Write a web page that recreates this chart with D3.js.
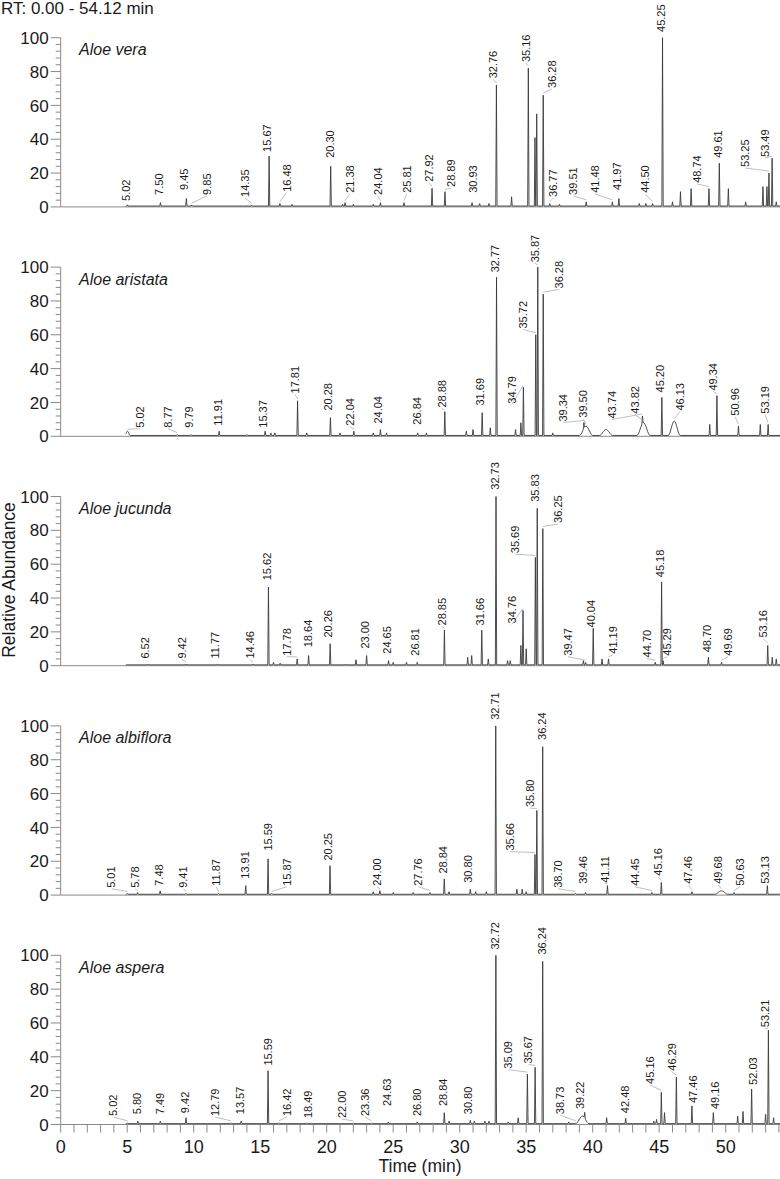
<!DOCTYPE html>
<html><head><meta charset="utf-8">
<script src="https://cdn.jsdelivr.net/npm/d3@7"></script>
<style>
body{margin:0;background:#fff;}
svg{display:block;font-family:"Liberation Sans",Arial,sans-serif;}
</style></head>
<body><svg id="c" width="780" height="1179"></svg>
<script>
// ---------------- DATA ----------------
const rtRange = [0, 54.12];
const panelNames = ["Aloe vera", "Aloe aristata", "Aloe jucunda", "Aloe albiflora", "Aloe aspera"];
const yTickValues = [0, 20, 40, 60, 80, 100];
const xTickValues = [0, 5, 10, 15, 20, 25, 30, 35, 40, 45, 50];
const traceStart = 4.9;

// peaks: [retention time (min), relative abundance, optional half-width (min)]
const peaksVera = [[5.02,1.2],[7.50,2.5],[9.45,5],[9.85,1],[14.35,1],[15.67,30],[16.48,2],[17.4,1.5],[20.30,24],[21.2,1.5],[21.38,2.5],[22.0,1.5],[23.5,1.5],[24.04,2.5],[25.81,2.5],[27.92,11],[28.89,9],[30.93,2.5],[31.5,2],[32.2,2],[32.76,72],[33.9,6],[35.16,82],[35.66,41],[35.79,55],[36.28,66],[36.77,2],[37.5,1.5],[39.51,3],[41.48,3],[41.97,5],[43.5,2],[44.0,2],[44.50,2],[45.25,100],[46.0,3],[46.6,9],[47.4,10.8],[48.74,10.8],[49.52,25.8],[50.2,10.8],[51.5,3],[52.8,12],[53.1,12],[53.25,20],[53.49,28.8],[53.8,3]];
const peaksAristata = [[5.02,3,0.2],[8.77,1],[9.79,1],[11.91,3],[14.0,1],[15.37,3],[15.8,2],[16.1,2],[17.81,21],[18.5,2],[20.28,11],[21.0,2],[22.04,3],[23.5,2],[24.04,4],[24.5,2],[26.84,2],[27.5,2],[28.88,14.6],[30.5,3],[31.0,4],[31.69,14],[32.3,5],[32.77,94],[34.2,4],[34.6,8],[34.79,29],[35.72,60],[35.87,100],[36.28,84],[37.0,2],[39.34,4],[39.50,6,0.5],[41.0,4,0.5],[43.74,5],[43.82,8,0.5],[45.20,23],[46.13,9,0.45],[48.8,7],[49.34,24],[50.96,6],[52.6,7],[53.19,7]];
const peaksJucunda = [[6.52,1],[9.42,1],[11.77,1],[14.46,1],[15.62,46.5],[16.0,2],[16.5,1.5],[17.78,4],[18.64,6],[20.26,13],[21.5,1],[22.2,3.5],[23.00,6],[24.65,3],[25.0,2],[26.0,2],[26.81,2],[28.85,21],[30.6,5],[30.9,6],[31.66,21],[32.15,4],[32.73,100],[33.6,3],[33.8,3],[34.6,12],[34.76,32.7],[35.0,10],[35.69,64],[35.83,93],[36.25,81],[39.3,3],[39.47,2],[40.04,22],[40.7,4],[41.19,4],[44.70,2],[45.18,49.5],[45.29,3],[48.70,5],[49.69,2],[53.16,12],[53.5,5],[53.8,4]];
const peaksAlbiflora = [[5.01,1],[5.78,1.5],[7.48,2.5],[9.41,1],[11.87,1],[13.91,5.6],[15.59,21.4],[15.87,1],[20.25,17.4],[23.5,2],[24.00,2.6],[25.0,1.5],[26.5,1.5],[27.76,1.5],[28.84,9.6],[29.2,2],[30.80,3.5],[31.2,2],[32.0,2],[32.71,100],[34.3,3.5],[34.7,3.5],[35.0,2],[35.66,24],[35.80,50],[36.24,87.7],[38.70,1],[39.46,1.5],[41.11,5.6],[44.45,1.5],[45.16,7.5],[47.46,2],[49.68,2.5,0.5],[50.63,1.5],[53.13,5.6]];
const peaksAspera = [[5.02,1],[5.80,2],[7.49,2],[9.42,4],[12.79,1],[13.57,2],[15.59,31.8],[16.42,1],[18.49,1],[22.00,1],[23.36,1],[24.63,1.5],[26.80,1.5],[28.0,1],[28.84,7],[29.2,2],[30.80,2.5],[31.1,2],[31.9,2],[32.2,2],[32.72,100],[33.65,1.5],[34.4,4],[35.09,29.8],[35.67,33.8],[36.24,96.4],[38.2,1.5],[38.73,1],[39.22,5,0.5],[39.4,4],[41.05,4],[42.48,3.7],[44.6,2],[44.8,3],[45.16,19],[45.4,7],[46.29,28],[47.46,11],[49.07,7],[50.9,5],[51.3,7.7],[51.95,21],[53.0,6],[53.21,55.7],[53.6,4]];

// labels: [text, label position (min), label foot (abundance)]
const labelsVera = [["5.02",4.92,3.5],["7.50",7.40,7.1],["9.45",9.29,10],["9.85",10.98,7.1],["14.35",13.86,5.9],["15.67",15.49,32.5],["16.48",16.99,8.9],["20.30",20.25,29],["21.38",21.75,8.3],["24.04",23.83,7.1],["25.81",26.02,8.3],["27.92",27.71,14.8],["28.89",29.35,11.8],["30.93",31.02,8.3],["32.76",32.53,76],["35.16",34.96,85.6],["36.28",36.92,70.3],["36.77",37.04,5.9],["39.51",38.54,7.1],["41.48",40.17,8.3],["41.97",41.80,10],["44.50",43.93,8.3],["45.25",45.14,103.4],["48.74",47.82,14.2],["49.61",49.44,29],["53.25",51.45,23.6],["53.49",52.95,29.5]];
const labelsAristata = [["5.02",5.96,5.1],["8.77",8.07,5.1],["9.79",9.65,5.1],["11.91",11.83,6.3],["15.37",15.21,5.1],["17.81",17.62,25.3],["20.28",20.12,15.2],["22.04",21.75,6.3],["24.04",23.86,7.5],["26.84",26.77,6.9],["28.88",28.65,17],["31.69",31.53,18.2],["32.77",32.65,96.9],["34.79",33.91,19.3],["35.72",34.78,63.7],["35.87",35.66,102.8],["36.28",37.47,87.4],["39.34",37.79,8.7],["39.50",39.29,11],["43.74",41.43,10.5],["43.82",43.18,13.4],["45.20",45.06,25.9],["46.13",46.56,15.2],["49.34",49.07,27],["50.96",50.70,12.2],["53.19",52.95,13.4]];
const labelsJucunda = [["6.52",6.34,4.2],["9.42",9.10,4.2],["11.77",11.6,4.2],["14.46",14.23,4.2],["15.62",15.49,50.5],["17.78",16.99,5.9],["18.64",18.62,10.9],["20.26",20.12,16.6],["23.00",22.88,10.1],["24.65",24.51,7.1],["26.81",26.64,5.9],["28.85",28.65,23.8],["31.66",31.53,23.8],["32.73",32.65,104],["34.76",33.91,25],["35.69",34.16,66.5],["35.83",35.66,96.9],["36.25",37.41,84.4],["39.47",38.14,5.9],["40.04",39.92,22.6],["41.19",41.53,7.1],["44.70",44.06,4.9],["45.18",45.06,52.3],["45.29",45.6,5.9],["48.70",48.57,7.9],["49.69",50.17,5.9],["53.16",52.83,16.6]];
const labelsAlbiflora = [["5.01",3.83,4.3],["5.78",5.59,4.3],["7.48",7.41,5.5],["9.41",9.22,4.3],["11.87",11.68,5.5],["13.91",13.86,9.7],["15.59",15.61,26.3],["15.87",16.99,5.5],["20.25",20.12,20.4],["24.00",23.76,5.5],["27.76",26.89,5.5],["28.84",28.77,12.7],["30.80",30.65,7.3],["32.71",32.65,103.6],["35.66",33.78,26.3],["35.80",35.29,52],["36.24",36.17,91.7],["38.70",37.41,4.3],["39.46",39.29,6.7],["41.11",40.92,7.3],["44.45",43.18,5.5],["45.16",44.91,11.5],["47.46",47.19,6.7],["49.68",49.44,6.7],["50.63",51.08,5.5],["53.13",52.95,6.7]];
const labelsAspera = [["5.02",3.95,5],["5.80",5.71,6.1],["7.49",7.47,6.1],["9.42",9.35,6.7],["12.79",11.6,5],["13.57",13.48,6.1],["15.59",15.61,34.8],["16.42",16.99,5],["18.49",18.62,3.8],["22.00",21.13,3.8],["23.36",22.88,5],["24.63",24.51,10.9],["26.80",26.77,5],["28.84",28.77,10.9],["30.80",30.65,6.1],["32.72",32.65,103.4],["35.09",33.65,33],["35.67",35.16,36],["36.24",36.17,100.4],["38.73",37.54,6.1],["39.22",39.04,9.1],["42.48",42.42,6.7],["45.16",44.31,24],["46.29",45.94,31.8],["47.46",47.56,12.7],["49.16",49.2,9.1],["52.03",52.07,23.4],["53.21",52.95,57.5]];

const panelPeaks = [peaksVera, peaksAristata, peaksJucunda, peaksAlbiflora, peaksAspera];
const panelLabels = [labelsVera, labelsAristata, labelsJucunda, labelsAlbiflora, labelsAspera];

// ---------------- DRAW ----------------
const svg = d3.select("#c");
const x = d3.scaleLinear().domain(rtRange).range([60.7, 780.5]);
const panelTop0 = 37.7, panelStep = 229.4, panelH = 169.2;
const axisColor = "#8a8a8a", traceColor = "#3a3a3a", leaderColor = "#b0b0b0", textColor = "#1a1a1a";
const base = 0.5, defaultW = 0.05;

svg.append("text").attr("x", 1).attr("y", 13.5).attr("font-size", 17).attr("fill", textColor)
  .text("RT: 0.00 - 54.12 min");

function contribution(p, t) {
  const d = Math.abs(t - p[0]);
  if (p[2]) { // broad, rounded hump
    return d < p[2] ? (p[1] - base) * (0.5 + 0.5 * Math.cos(Math.PI * d / p[2])) : 0;
  }
  return d < defaultW ? (p[1] - base) * (1 - d / defaultW) : 0;
}
function valueAt(peaks, t) {
  let v = base;
  for (const p of peaks) v += contribution(p, t);
  return v;
}

panelPeaks.forEach((peaks, i) => {
  const top = panelTop0 + i * panelStep;
  const y = d3.scaleLinear().domain([0, 100]).range([top + panelH, top]);
  const g = svg.append("g");

  // y axis
  g.append("line").attr("x1", x(0)).attr("x2", x(0)).attr("y1", y(0)).attr("y2", y(100))
    .attr("stroke", axisColor).attr("stroke-width", 1);
  d3.range(0, 101, 4).forEach(v => {
    const major = v % 20 === 0;
    g.append("line").attr("x1", x(0) - (major ? 10 : 5)).attr("x2", x(0))
      .attr("y1", y(v)).attr("y2", y(v)).attr("stroke", axisColor).attr("stroke-width", 1);
  });
  yTickValues.forEach(v => {
    g.append("text").attr("x", x(0) - 12).attr("y", y(v)).attr("dy", "0.36em")
      .attr("text-anchor", "end").attr("font-size", 17).attr("fill", textColor).text(v);
  });
  // baseline axis
  g.append("line").attr("x1", x(0)).attr("x2", x(rtRange[1])).attr("y1", y(0)).attr("y2", y(0))
    .attr("stroke", axisColor).attr("stroke-width", 1);

  // trace
  let ts = [traceStart, rtRange[1]];
  peaks.forEach(p => {
    if (p[2]) { for (let k = -8; k <= 8; k++) ts.push(p[0] + p[2] * k / 8); }
    else ts.push(p[0] - defaultW, p[0], p[0] + defaultW);
  });
  ts = ts.filter(t => t >= traceStart && t <= rtRange[1]).sort((a, b) => a - b);
  const pts = ts.map(t => [t, valueAt(peaks, t)]);
  g.append("path").attr("d", d3.line().x(d => x(d[0])).y(d => y(d[1]))(pts))
    .attr("fill", "none").attr("stroke", traceColor).attr("stroke-width", 0.9);

  // labels
  panelLabels[i].forEach(l => {
    const prt = parseFloat(l[0]);
    const lx = x(l[1]), ly = y(l[2]);
    const px = x(prt), py = y(valueAt(peaks, prt));
    if (Math.abs(lx - px) > 2.5) {
      g.append("line").attr("x1", lx).attr("y1", ly + 1).attr("x2", px).attr("y2", Math.min(py - 2, ly + 12))
        .attr("stroke", leaderColor).attr("stroke-width", 0.8);
    }
    g.append("text").attr("transform", `translate(${lx},${ly}) rotate(-90)`)
      .attr("dy", "0.35em").attr("font-size", 11).attr("fill", textColor).text(l[0]);
  });

  // panel name
  g.append("text").attr("x", 79).attr("y", y(100) + 17.5).attr("font-size", 16)
    .attr("font-style", "italic").attr("fill", textColor).text(panelNames[i]);

  // bottom x axis
  if (i === panelPeaks.length - 1) {
    d3.range(0, 55, 1).forEach(t => {
      g.append("line").attr("x1", x(t)).attr("x2", x(t)).attr("y1", y(0)).attr("y2", y(0) + 8)
        .attr("stroke", axisColor).attr("stroke-width", 1);
    });
    xTickValues.forEach(t => {
      g.append("text").attr("x", x(t)).attr("y", y(0) + 28.5).attr("text-anchor", "middle")
        .attr("font-size", 18).attr("fill", textColor).text(t);
    });
  }
});

svg.append("text").attr("x", 420).attr("y", 1171.5).attr("text-anchor", "middle")
  .attr("font-size", 17.5).attr("fill", textColor).text("Time (min)");
svg.append("text").attr("transform", "translate(14.5,580) rotate(-90)").attr("text-anchor", "middle")
  .attr("font-size", 17.5).attr("fill", textColor).text("Relative Abundance");
</script></body></html>
